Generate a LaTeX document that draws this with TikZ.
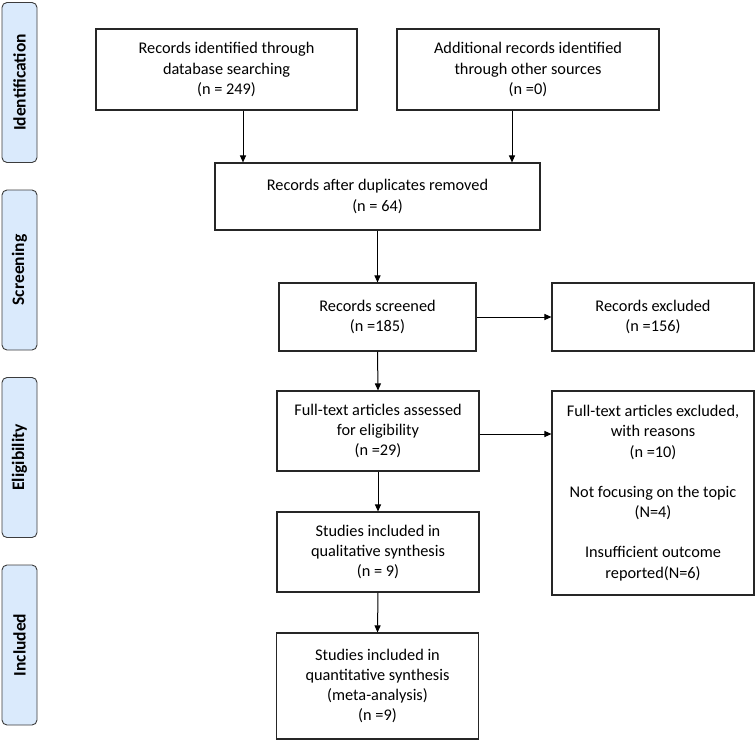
\documentclass[tikz,border=0pt]{standalone}
\usepackage{fontspec}
\setmainfont{Carlito}
\usetikzlibrary{arrows.meta}
\definecolor{phasefill}{RGB}{218,234,252}
\definecolor{phaseline}{RGB}{60,60,60}
\tikzset{
  box/.style={draw=black!85, line width=1.1pt, align=center, inner sep=0pt,
              font=\fontsize{16.3}{20.3}\selectfont},
  phase/.style={draw=phaseline, fill=phasefill, line width=0.9pt, rounded corners=5pt,
                rotate=90, minimum width=160pt, minimum height=35pt, inner sep=0pt,
                font=\fontsize{17.5}{20}\selectfont\bfseries},
  arr/.style={line width=1pt, -{Triangle[length=7pt,width=6pt]}}
}
\begin{document}
\begin{tikzpicture}[x=1pt,y=-1pt]
\useasboundingbox (0,0) rectangle (755,742);
% phase labels
\node[phase] (pid) at (19.5,82.5) {Identification};
\node[phase] (pscr) at (19.5,270) {Screening};
\node[phase] (pelig) at (19.5,457.5) {Eligibility};
\node[phase] (pinc) at (19.5,645) {Included};
% boxes
\node[box, minimum width=261pt, minimum height=81pt] (id1) at (226.5,69.5)
  {Records identified through\\database searching\\(n = 249)};
\node[box, minimum width=262pt, minimum height=81pt] (id2) at (528,69.5)
  {Additional records identified\\through other sources\\(n =0)};
\node[box, minimum width=325pt, minimum height=67pt] (dup) at (377.5,196.5)
  {Records after duplicates removed\\(n = 64)};
\node[box, minimum width=197pt, minimum height=68pt] (scr) at (377.5,317)
  {Records screened\\(n =185)};
\node[box, minimum width=202pt, minimum height=68pt] (exc) at (653,317)
  {Records excluded\\(n =156)};
\node[box, minimum width=202pt, minimum height=80pt] (ft) at (378,431)
  {Full-text articles assessed\\for eligibility\\(n =29)};
\node[box, minimum width=202pt, minimum height=204pt] (exc2) at (653,493)
  {Full-text articles excluded,\\with reasons\\(n =10)\\[20pt]Not focusing on the topic\\(N=4)\\[20pt]Insufficient outcome\\reported(N=6)};
\node[box, minimum width=202pt, minimum height=80pt] (qual) at (378,552)
  {Studies included in\\qualitative synthesis\\(n = 9)};
\node[box, minimum width=202pt, minimum height=106pt] (quant) at (377.5,686)
  {Studies included in\\quantitative synthesis\\(meta-analysis)\\(n =9)};
% connectors
\coordinate (a1) at (243,0);
\coordinate (a2) at (512,0);
\coordinate (a3) at (0,434);
\draw[arr] (a1 |- id1.south) -- (a1 |- dup.north);
\draw[arr] (a2 |- id2.south) -- (a2 |- dup.north);
\draw[arr] (dup.south -| scr.north) -- (scr.north);
\draw[arr] (scr.east) -- (exc.west);
\draw[arr] (scr.south) -- (ft.north);
\draw[arr] (a3 -| ft.east) -- (a3 -| exc2.west);
\draw[arr] (ft.south) -- (qual.north);
\draw[arr] (qual.south) -- (quant.north);
\end{tikzpicture}
\end{document}
